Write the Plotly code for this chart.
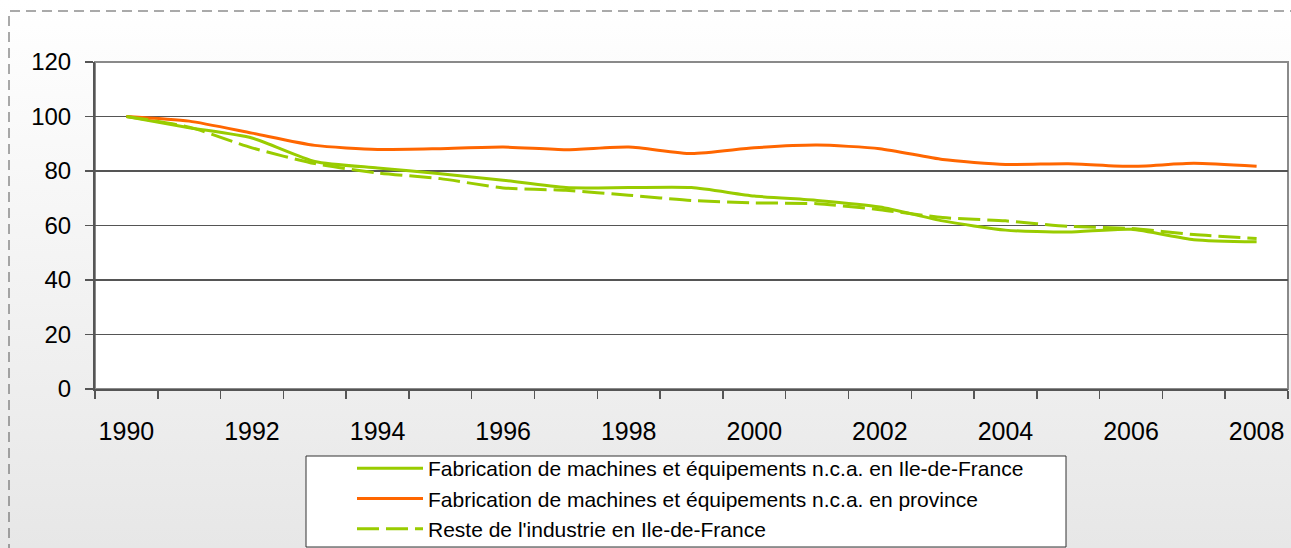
import base64
import plotly.graph_objects as go

years = list(range(1990, 2009))
idf_machines = [100, 95.9, 92.1, 83.5, 81.1, 79.0, 76.6, 73.9, 73.9, 73.9, 70.8, 69.2, 66.8, 61.7, 58.3, 57.6, 58.6, 54.8, 54.0]
province_machines = [100, 98.3, 93.9, 89.4, 87.9, 88.2, 88.8, 87.8, 88.8, 86.4, 88.5, 89.5, 88.2, 84.2, 82.4, 82.7, 81.7, 82.8, 81.7]
idf_rest = [100, 96.1, 88.5, 82.7, 79.3, 77.2, 73.8, 72.9, 71.1, 69.2, 68.3, 68.0, 65.8, 62.9, 61.7, 59.7, 58.9, 56.7, 55.2]
names = [
    "Fabrication de machines et équipements n.c.a. en Ile-de-France",
    "Fabrication de machines et équipements n.c.a. en province",
    "Reste de l'industrie en Ile-de-France",
]
y_ticks = [0, 20, 40, 60, 80, 100, 120]
x_labels = [1990, 1992, 1994, 1996, 1998, 2000, 2002, 2004, 2006, 2008]

GREEN = "#99CC00"
ORANGE = "#FF6600"
FONT = "Liberation Sans, Arial, sans-serif"

fig = go.Figure()
fig.add_trace(go.Scatter(x=years, y=idf_machines, name=names[0], mode="lines",
                         line=dict(color=GREEN, width=3, shape="spline", smoothing=0.6)))
fig.add_trace(go.Scatter(x=years, y=province_machines, name=names[1], mode="lines",
                         line=dict(color=ORANGE, width=3, shape="spline", smoothing=0.6)))
fig.add_trace(go.Scatter(x=years, y=idf_rest, name=names[2], mode="lines",
                         line=dict(color=GREEN, width=3, dash="22px,7px", shape="spline", smoothing=0.6)))

# figure slightly larger than the 1291x548 viewport so the legend never pushes margins
W, H = 1300, 570
L, T = 95, 62
PLOT_RIGHT, PLOT_BOTTOM = 1288, 389
R, B = W - PLOT_RIGHT, H - PLOT_BOTTOM
pw, ph = W - L - R, H - T - B

def px(xp):
    return (xp - L) / pw

def py(yp):
    return (H - B - yp) / ph

svg = ('<svg xmlns="http://www.w3.org/2000/svg" width="100" height="100" preserveAspectRatio="none">'
       '<defs><linearGradient id="g" x1="0" y1="0" x2="0" y2="1">'
       '<stop offset="0" stop-color="#ffffff"/><stop offset="0.3" stop-color="#f8f8f8"/>'
       '<stop offset="1" stop-color="#e7e7e7"/></linearGradient></defs>'
       '<rect width="100" height="100" fill="url(#g)"/></svg>')
src = "data:image/svg+xml;base64," + base64.b64encode(svg.encode()).decode()

fig.update_layout(
    width=W, height=H,
    margin=dict(l=L, r=R, t=T, b=B, pad=0, autoexpand=False),
    paper_bgcolor="#f2f2f2",
    plot_bgcolor="white",
    font=dict(family=FONT, color="black"),
    showlegend=True,
    legend=dict(
        x=px(352), y=py(448), xanchor="left", yanchor="top",
        bgcolor="rgba(0,0,0,0)", borderwidth=0,
        font=dict(family=FONT, size=21, color="black"),
        itemwidth=66, tracegroupgap=0,
    ),
    images=[dict(source=src, xref="paper", yref="paper", x=px(0), y=py(0),
                 sizex=W / pw, sizey=548 / ph, xanchor="left", yanchor="top",
                 sizing="stretch", layer="below")],
    shapes=[
        # white plot area
        dict(type="rect", xref="paper", yref="paper", x0=0, x1=1, y0=0, y1=1,
             line=dict(color="#8a8a8a", width=2), fillcolor="white", layer="below"),
        # outer dashed chart border
        dict(type="rect", xref="paper", yref="paper", x0=px(9), x1=px(1320), y0=py(600), y1=py(11),
             line=dict(color="#555555", width=1, dash="10px,6px"), fillcolor="rgba(0,0,0,0)", layer="below"),
        # legend box
        dict(type="rect", xref="paper", yref="paper", x0=px(306), x1=px(1066), y0=py(547), y1=py(456),
             line=dict(color="#333333", width=1), fillcolor="white", layer="above"),
    ],
    hovermode=False,
)

fig.update_xaxes(
    range=[1989.5, 2008.5],
    tickvals=x_labels, ticktext=[str(v) for v in x_labels],
    ticks="", showgrid=False, zeroline=False,
    showline=True, linecolor="#555555", linewidth=2,
    tickfont=dict(family=FONT, size=25, color="black"),
    ticklabelstandoff=19, automargin=False,
    minor=dict(tickmode="linear", tick0=1989.5, dtick=1, ticks="outside", ticklen=8,
               tickwidth=1.5, tickcolor="#555555", showgrid=False),
)
fig.update_yaxes(
    range=[0, 120], tickvals=y_ticks,
    ticks="outside", ticklen=8, tickwidth=1.5, tickcolor="#555555",
    showgrid=True, gridcolor="#555555", gridwidth=1.5,
    zeroline=False, showline=True, linecolor="#555555", linewidth=2,
    tickfont=dict(family=FONT, size=24, color="black"),
    ticklabelstandoff=9, automargin=False,
)

fig.write_html(
    "out.html",
    config={"displayModeBar": False, "staticPlot": True},
    post_script="document.body.style.margin='0';document.body.style.overflow='hidden';",
)
